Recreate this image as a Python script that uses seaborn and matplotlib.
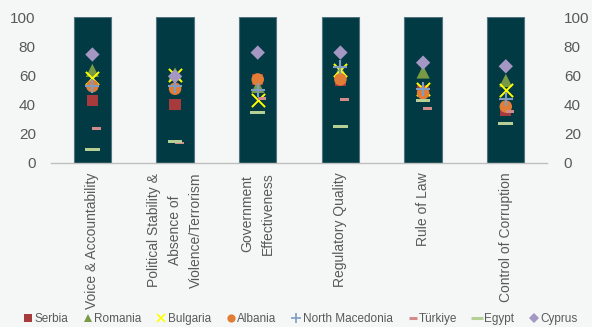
import numpy as np
import pandas as pd
import matplotlib
matplotlib.use("Agg")
import matplotlib.pyplot as plt
import seaborn as sns
from matplotlib.path import Path
from matplotlib.lines import Line2D

# ---------------- data ----------------
categories = ["Voice & Accountability",
              "Political Stability &\nAbsence of\nViolence/Terrorism",
              "Government\nEffectiveness",
              "Regulatory Quality",
              "Rule of Law",
              "Control of Corruption"]
bar_values = [100, 100, 100, 100, 100, 100]

serbia          = [42.8, 40.2, 57.2, 56.5, 49.2, 35.9]
romania         = [63.4, 61.0, 52.4, 63.0, 62.3, 56.5]
bulgaria        = [58.4, 60.0, 43.2, 63.4, 50.8, 50.1]
albania         = [52.6, 50.8, 57.2, 57.2, 47.8, 38.6]
north_macedonia = [53.0, 52.4, 49.7, 66.0, 50.8, 43.9]
turkiye         = [23.7, 13.6, 43.9, 43.4, 37.0, 35.2]
egypt           = [9.4, 14.5, 34.3, 24.8, 42.8, 26.7]
cyprus          = [74.3, 59.3, 75.6, 75.6, 68.7, 66.2]

series_names = ["Serbia", "Romania", "Bulgaria", "Albania",
                "North Macedonia", "Türkiye", "Egypt", "Cyprus"]
series_values = [serbia, romania, bulgaria, albania,
                 north_macedonia, turkiye, egypt, cyprus]
y_ticks = [0, 20, 40, 60, 80, 100]

# ---------------- style ----------------
bg = "#F5F7F7"
bar_color = "#023A44"
text_color = "#595959"

sns.set_theme(style="white")
plt.rcParams["font.family"] = ["Liberation Sans", "DejaVu Sans"]

turk_marker = Path([(0, -0.17), (1, -0.17), (1, 0.17), (0, 0.17), (0, -0.17)],
                   [Path.MOVETO, Path.LINETO, Path.LINETO, Path.LINETO, Path.CLOSEPOLY])
egypt_marker = Path([(-1, -0.2), (1, -0.2), (1, 0.2), (-1, 0.2), (-1, -0.2)],
                    [Path.MOVETO, Path.LINETO, Path.LINETO, Path.LINETO, Path.CLOSEPOLY])

styles = {
    "Serbia":          dict(marker="s", color="#A63A3C", ms=8.2, lw=0),
    "Romania":         dict(marker="^", color="#789A45", ms=9.5, lw=0),
    "Bulgaria":        dict(marker="x", color="#FFFF00", ms=9.5, lw=1.4),
    "Albania":         dict(marker="o", color="#E27D37", ms=9.0, lw=0),
    "North Macedonia": dict(marker="+", color="#7F9CC4", ms=10.0, lw=1.5),
    "Türkiye":         dict(marker=turk_marker, color="#D48B8C", ms=12.5, lw=0),
    "Egypt":           dict(marker=egypt_marker, color="#B6CF94", ms=10.5, lw=0),
    "Cyprus":          dict(marker="D", color="#A597C3", ms=7.3, lw=0),
}

fig = plt.figure(figsize=(5.92, 3.27), dpi=100, facecolor=bg)
ax = fig.add_axes([0.0862, 0.502, 0.838, 0.446])
ax.set_facecolor(bg)

xpos = np.arange(len(categories))
bars_df = pd.DataFrame({"x": xpos, "v": bar_values})
sns.barplot(data=bars_df, x="x", y="v", color=bar_color, width=0.45,
            edgecolor="#4F7480", linewidth=0.8, saturation=1, ax=ax, zorder=1)

for name, vals in zip(series_names, series_values):
    st = styles[name]
    df = pd.DataFrame({"x": xpos, "y": vals})
    if st["lw"] > 0:
        sns.scatterplot(data=df, x="x", y="y", marker=st["marker"], color=st["color"],
                        s=st["ms"] ** 2, linewidth=st["lw"], ax=ax, zorder=3, legend=False)
    else:
        sns.scatterplot(data=df, x="x", y="y", marker=st["marker"], color=st["color"],
                        s=st["ms"] ** 2, linewidth=0, edgecolor="none", ax=ax, zorder=3,
                        legend=False)

ax.set_xlim(-0.5, len(categories) - 0.5)
ax.set_ylim(0, 100)
ax.set_yticks(y_ticks)
ax.set_yticklabels([str(t) for t in y_ticks])
ax.tick_params(axis="y", length=0, pad=11, labelsize=11, labelcolor=text_color)
ax.set_xlabel("")
ax.set_ylabel("")

ax.set_xticks(xpos)
ax.set_xticklabels(categories, rotation=90, ha="center", va="top",
                   multialignment="center", linespacing=1.65,
                   fontsize=10, color=text_color)
ax.tick_params(axis="x", which="major", length=0, pad=7)
ax.set_xticks(np.arange(len(categories) + 1) - 0.5, minor=True)
ax.tick_params(axis="x", which="minor", length=4, width=0.8, color="#BFBFBF", direction="out")

for s in ["top", "left", "right"]:
    ax.spines[s].set_visible(False)
ax.spines["bottom"].set_color("#BFBFBF")
ax.spines["bottom"].set_linewidth(1.0)

ax2 = ax.twinx()
ax2.set_ylim(0, 100)
ax2.set_yticks(y_ticks)
ax2.set_yticklabels([str(t) for t in y_ticks])
ax2.tick_params(axis="y", length=0, pad=12, labelsize=11, labelcolor=text_color)
for s in ax2.spines.values():
    s.set_visible(False)
ax2.grid(False)
ax.grid(False)

handles = []
for name in series_names:
    st = styles[name]
    ms = st["ms"] * 0.66
    if name == "Türkiye":
        h = Line2D([], [], linestyle="none", marker="_", color=st["color"], ms=6, mew=2.2)
    elif name == "Egypt":
        h = Line2D([], [], linestyle="none", marker="_", color=st["color"], ms=8, mew=2.2)
    elif st["lw"] > 0:
        h = Line2D([], [], linestyle="none", marker=st["marker"], color=st["color"],
                   ms=ms, mew=1.2)
    else:
        h = Line2D([], [], linestyle="none", marker=st["marker"], color=st["color"],
                   ms=ms, mew=0)
    handles.append(h)

fig.legend(handles, series_names, loc="center", bbox_to_anchor=(0.508, 0.025),
           ncol=8, frameon=False, fontsize=8.5, handlelength=0.6, handletextpad=0.25,
           columnspacing=1.38, labelcolor=text_color, borderpad=0, borderaxespad=0)

fig.savefig("out.png", dpi=100, facecolor=bg)
